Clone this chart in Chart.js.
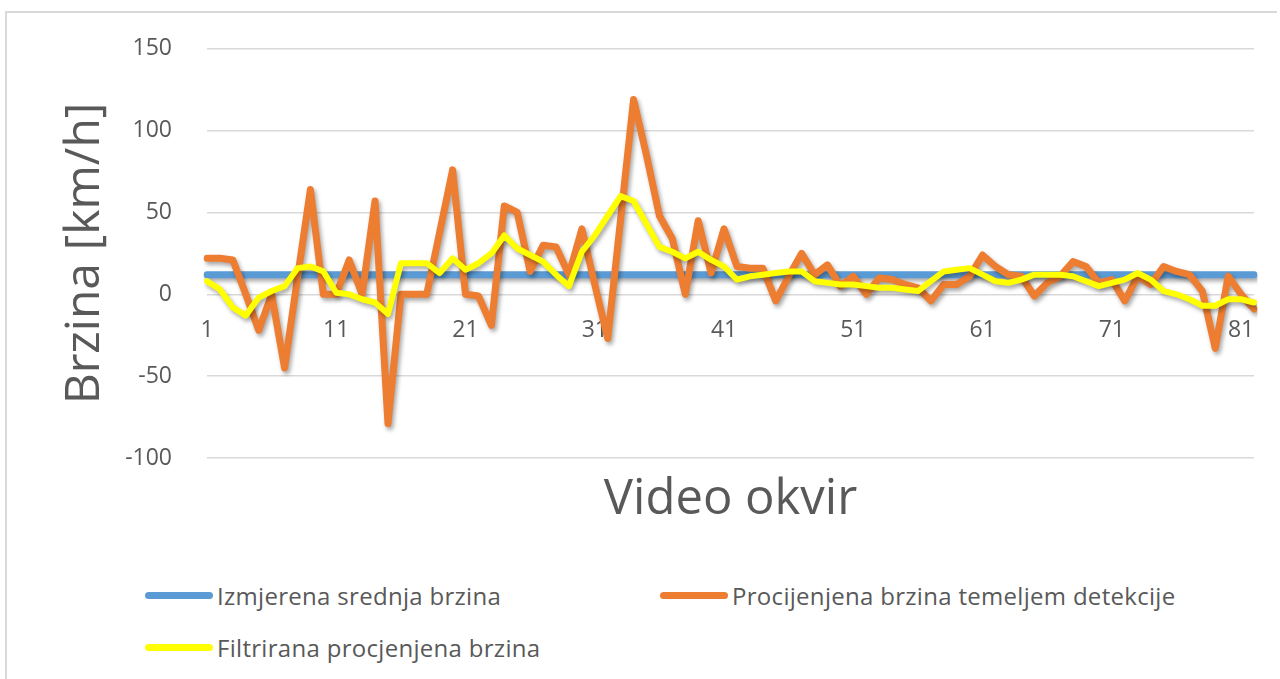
<!DOCTYPE html>
<html>
<head>
<meta charset="utf-8">
<script src="https://cdn.jsdelivr.net/npm/chart.js@4"></script>
<style>
  html, body { margin: 0; padding: 0; background: #fff; }
  body { width: 1280px; height: 679px; position: relative; overflow: hidden; font-family: "Open Sans", sans-serif; }
  #frame { position: absolute; left: 5px; top: 11px; right: 3px; bottom: -5px; border-top: 2px solid #d9d9d9; border-left: 2px solid #d9d9d9; }
  #wrap { position: absolute; left: 0; top: 0; width: 1280px; height: 540px; }
  #legend { position: absolute; left: 145px; top: 576px; display: grid; grid-template-columns: 515px auto; grid-auto-rows: 52px; }
  .item { display: flex; align-items: center; height: 38px; color: #595959; font-size: 24px; letter-spacing: 0.3px; }
  .swatch { width: 68px; height: 7px; border-radius: 4px; margin-right: 4px; }
</style>
</head>
<body>
<div id="frame"></div>
<div id="wrap"><canvas id="chart-brzina" width="1280" height="540"></canvas></div>
<div id="legend"></div>
<script>
// video frames 1..82
const okviri = [];
for (let i = 1; i <= 82; i++) okviri.push(String(i));

const serijeNazivi = ['Izmjerena srednja brzina', 'Procijenjena brzina temeljem detekcije', 'Filtrirana procjenjena brzina'];
const yTicks = [-100, -50, 0, 50, 100, 150];

const izmjerena = Array(82).fill(12);

const procijenjena = [
    22, 22, 21, 0, -22, 0, -45, 10, 64, 0,
    0, 21, 0, 57, -79, 0, 0, 0, 38, 76,
    0, -1, -19, 54, 50, 14, 30, 29, 12, 40,
    6, -27, 46, 119, 85, 48, 34, 0, 45, 13,
    40, 17, 16, 16, -4, 11, 25, 12, 18, 5,
    11, 0, 10, 9, 6, 4, -4, 6, 6, 11,
    24, 17, 12, 11, -1, 7, 11, 20, 17, 7,
    9, -4, 11, 6, 17, 14, 12, 2, -33, 11,
    0, -9
];

const filtrirana = [
    8, 3, -8, -13, -2, 2, 5, 16, 17, 14,
    1, 0, -3, -5, -12, 19, 19, 19, 13, 22,
    15, 19, 25, 36, 28, 24, 20, 12, 5, 26,
    36, 48, 60, 57, 43, 29, 26, 22, 26, 21,
    17, 9, 11, 12, 13, 14, 14, 8, 7, 6,
    6, 5, 4, 4, 3, 2, 8, 14, 15, 16,
    12, 8, 7, 9, 12, 12, 12, 11, 8, 5,
    7, 9, 13, 9, 2, 0, -3, -7, -7, -3,
    -3, -5
];

const boje = ['#5b9bd5', '#ed7d31', '#ffff00'];
const sivo = '#595959';

// excel-like drop shadow under the lines
const sjenaPlugin = {
    id: 'sjena',
    beforeDatasetDraw(chart) {
        const c = chart.ctx;
        c.save();
        c.shadowColor = 'rgba(0,0,0,0.35)';
        c.shadowBlur = 4;
        c.shadowOffsetX = 2;
        c.shadowOffsetY = 3;
    },
    afterDatasetDraw(chart) {
        chart.ctx.restore();
    }
};

const ctx = document.getElementById('chart-brzina').getContext('2d');
const chartBrzina = new Chart(ctx, {
    type: 'line',
    data: {
        labels: okviri,
        datasets: [
            { label: serijeNazivi[0], data: izmjerena, borderColor: boje[0], borderWidth: 7, order: 3 },
            { label: serijeNazivi[1], data: procijenjena, borderColor: boje[1], borderWidth: 7, order: 2 },
            { label: serijeNazivi[2], data: filtrirana, borderColor: boje[2], borderWidth: 6, order: 1 }
        ]
    },
    options: {
        responsive: false,
        animation: false,
        events: [],
        layout: { padding: { top: 46, right: 26, bottom: 10.6, left: 0 } },
        elements: {
            point: { radius: 0 },
            line: { tension: 0, borderJoinStyle: 'round', borderCapStyle: 'round', fill: false }
        },
        plugins: {
            legend: { display: false },
            tooltip: { enabled: false },
            title: {
                display: true,
                text: 'Video okvir',
                position: 'bottom',
                fullSize: false,
                color: sivo,
                font: { family: 'Open Sans', size: 49, weight: 'normal' },
                padding: { top: 12.6, bottom: 0 }
            }
        },
        scales: {
            x: {
                position: { y: 0 },
                offset: false,
                border: { display: false },
                grid: { drawOnChartArea: false, drawTicks: true, tickLength: 22, tickColor: 'rgba(0,0,0,0)' },
                ticks: {
                    autoSkip: false,
                    maxRotation: 0,
                    padding: 0,
                    color: sivo,
                    font: { family: 'Open Sans', size: 23 },
                    callback: (v, i) => (i % 10 === 0 ? okviri[i] : null)
                }
            },
            y: {
                min: yTicks[0],
                max: yTicks[yTicks.length - 1],
                afterFit: (scale) => { scale.width = 207; },
                afterBuildTicks: (scale) => { scale.ticks = yTicks.map(v => ({ value: v })); },
                border: { display: false },
                grid: { color: '#d9d9d9', lineWidth: 1.5, drawTicks: false },
                ticks: {
                    padding: 35,
                    color: sivo,
                    font: { family: 'Open Sans', size: 23 }
                },
                title: {
                    display: true,
                    text: 'Brzina [km/h]',
                    color: sivo,
                    font: { family: 'Open Sans', size: 48, weight: 'normal' },
                    padding: { top: 57, bottom: 0 }
                }
            }
        }
    },
    plugins: [sjenaPlugin]
});

// legend in two columns like the excel one, built from the datasets
const legendEl = document.getElementById('legend');
chartBrzina.data.datasets.forEach(ds => {
    const item = document.createElement('div');
    item.className = 'item';
    const sw = document.createElement('span');
    sw.className = 'swatch';
    sw.style.background = ds.borderColor;
    const txt = document.createElement('span');
    txt.textContent = ds.label;
    item.appendChild(sw);
    item.appendChild(txt);
    legendEl.appendChild(item);
});
</script>
</body>
</html>
